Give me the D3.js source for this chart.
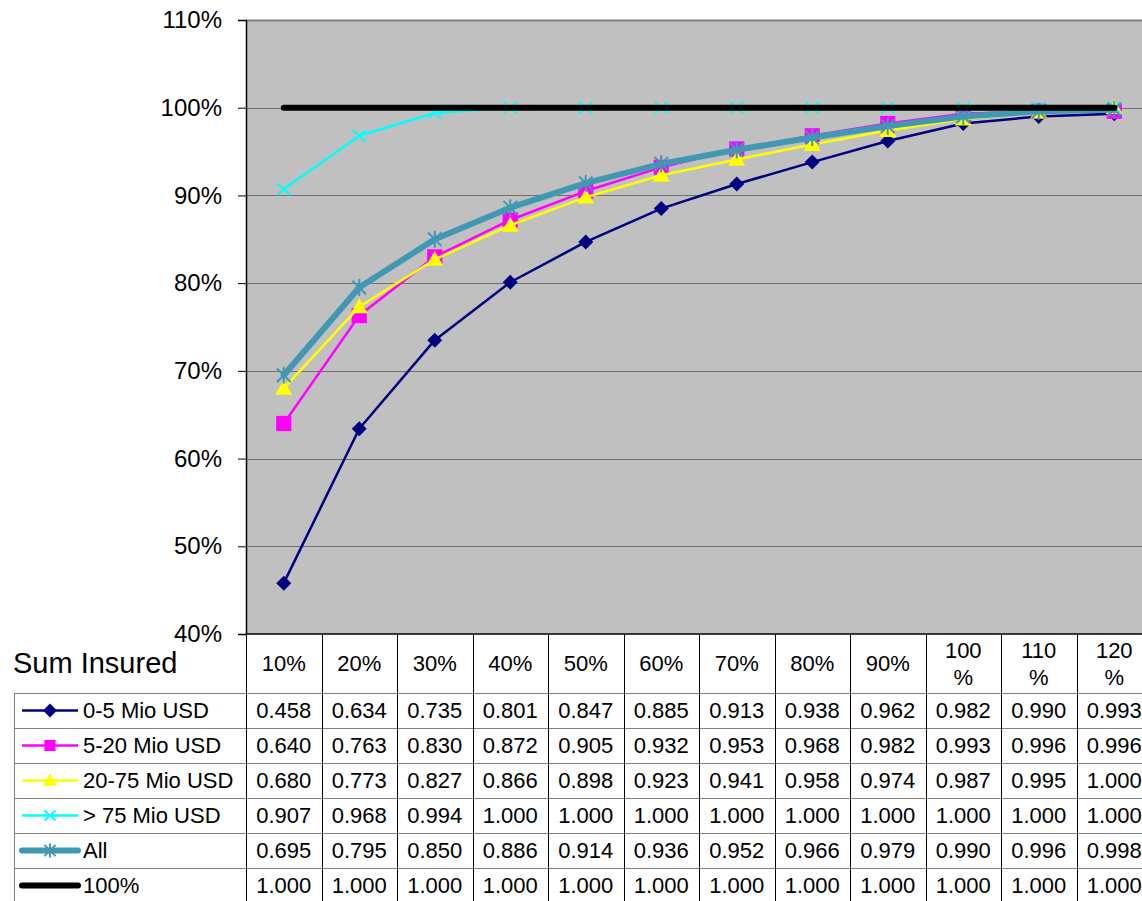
<!DOCTYPE html>
<html><head><meta charset="utf-8">
<script src="https://cdn.jsdelivr.net/npm/d3@7"></script>
<style>body{margin:0;background:#fff}svg{display:block;font-family:"Liberation Sans",Arial,sans-serif}</style>
</head><body><svg id="c" width="1142" height="901"></svg>
<script>
const categories = ["10%","20%","30%","40%","50%","60%","70%","80%","90%","100%","110%","120%"];
const yTicks = [0.4,0.5,0.6,0.7,0.8,0.9,1.0,1.1];
const seriesNames = ["0-5 Mio USD","5-20 Mio USD","20-75 Mio USD","> 75 Mio USD","All","100%"];
const s0_5   = [0.458,0.634,0.735,0.801,0.847,0.885,0.913,0.938,0.962,0.982,0.990,0.993];
const s5_20  = [0.640,0.763,0.830,0.872,0.905,0.932,0.953,0.968,0.982,0.993,0.996,0.996];
const s20_75 = [0.680,0.773,0.827,0.866,0.898,0.923,0.941,0.958,0.974,0.987,0.995,1.000];
const s75    = [0.907,0.968,0.994,1.000,1.000,1.000,1.000,1.000,1.000,1.000,1.000,1.000];
const sAll   = [0.695,0.795,0.850,0.886,0.914,0.936,0.952,0.966,0.979,0.990,0.996,0.998];
const s100   = [1.000,1.000,1.000,1.000,1.000,1.000,1.000,1.000,1.000,1.000,1.000,1.000];
const seriesValues = [s0_5, s5_20, s20_75, s75, sAll, s100];

const styles = [
  {color:"#000080", width:2.5, marker:"diamond", size:7.5},
  {color:"#FF00FF", width:2.5, marker:"square", size:9.5},
  {color:"#FFFF00", width:2.5, marker:"triangle", size:8.5},
  {color:"#00FFFF", width:2.5, marker:"x", size:8},
  {color:"#4198B2", width:6, marker:"star", size:8.5},
  {color:"#000000", width:6, marker:"none", size:0}
];

const svg = d3.select("#c");
const L = 246, T = 20, B = 634, colW = 75.5;
const R = L + colW*categories.length;
const x = d3.scaleBand().domain(categories).range([L, R]);
const y = d3.scaleLinear().domain([0.4, 1.1]).range([B, T]);
const cx = c => x(c) + x.bandwidth()/2;

// plot area
svg.append("rect").attr("x",L).attr("y",T).attr("width",R-L).attr("height",B-T).attr("fill","#C0C0C0");
svg.append("line").attr("x1",L).attr("x2",R).attr("y1",T+0.5).attr("y2",T+0.5).attr("stroke","#808080").attr("stroke-width",2);
// gridlines
svg.append("g").selectAll("line").data(yTicks.slice(1,-1)).join("line")
  .attr("x1",L).attr("x2",R).attr("y1",d=>Math.round(y(d))+0.5).attr("y2",d=>Math.round(y(d))+0.5)
  .attr("stroke","#707070").attr("stroke-width",1);

// y axis
const yAxis = d3.axisLeft(y).tickValues(yTicks).tickFormat(d3.format(".0%")).tickSize(8).tickPadding(16);
const ga = svg.append("g").attr("transform",`translate(${L},0)`).call(yAxis);
ga.select(".domain").attr("stroke","#000").attr("stroke-width",1.5);
ga.selectAll(".tick line").attr("stroke","#000");
ga.selectAll(".tick text").attr("font-size",24).attr("fill","#000").attr("font-family","Liberation Sans, Arial, sans-serif");

// markers
function drawMarker(g, type, color, size) {
  const s = size;
  if (type === "diamond") {
    g.append("path").attr("d",`M0,${-s}L${s},0L0,${s}L${-s},0Z`).attr("fill",color);
  } else if (type === "square") {
    g.append("rect").attr("x",-s*0.8).attr("y",-s*0.8).attr("width",s*1.6).attr("height",s*1.6).attr("fill",color);
  } else if (type === "triangle") {
    g.append("path").attr("d",`M0,${-s}L${s},${s*0.75}L${-s},${s*0.75}Z`).attr("fill",color);
  } else if (type === "x") {
    g.append("path").attr("d",`M${-s*0.8},${-s*0.7}L${s*0.8},${s*0.7}M${s*0.8},${-s*0.7}L${-s*0.8},${s*0.7}`).attr("stroke",color).attr("stroke-width",2);
  } else if (type === "star") {
    g.append("path").attr("d",`M${-s*0.8},${-s*0.8}L${s*0.8},${s*0.8}M${s*0.8},${-s*0.8}L${-s*0.8},${s*0.8}M0,${-s}L0,${s}`).attr("stroke",color).attr("stroke-width",2);
  }
}

const line = d3.line().x((d,i)=>cx(categories[i])).y(d=>y(d));
const plot = svg.append("g");
seriesValues.forEach((vals, si) => {
  const st = styles[si];
  plot.append("path").datum(vals).attr("d", line).attr("fill","none")
    .attr("stroke", st.color).attr("stroke-width", st.width)
    .attr("stroke-linejoin","round").attr("stroke-linecap","round");
  if (st.marker !== "none") {
    vals.forEach((v,i) => {
      const g = plot.append("g").attr("transform",`translate(${cx(categories[i])},${y(v)})`);
      drawMarker(g, st.marker, st.color, st.size);
    });
  }
});
// x axis line
svg.append("line").attr("x1",L).attr("x2",R).attr("y1",B).attr("y2",B).attr("stroke","#000").attr("stroke-width",1.5);

// table
const tTop = 693, rowH = 35, tLeft = 14;
const tab = svg.append("g");
// header
svg.append("text").attr("x",13).attr("y",673).attr("font-size",29).attr("fill","#000").text("Sum Insured");
categories.forEach(c => {
  const lines = c.length > 3 ? [c.slice(0,-1), "%"] : [c];
  const t = tab.append("text").attr("text-anchor","middle").attr("font-size",22).attr("fill","#000");
  if (lines.length === 1) {
    t.append("tspan").attr("x",cx(c)).attr("y",663).attr("dy","0.35em").text(lines[0]);
  } else {
    t.append("tspan").attr("x",cx(c)).attr("y",650).attr("dy","0.35em").text(lines[0]);
    t.append("tspan").attr("x",cx(c)).attr("y",677).attr("dy","0.35em").text(lines[1]);
  }
});
// horizontal lines
for (let r = 0; r <= seriesNames.length; r++) {
  const yy = tTop + r*rowH + 0.5;
  tab.append("line").attr("x1",tLeft).attr("x2",R).attr("y1",yy).attr("y2",yy).attr("stroke","#808080").attr("stroke-width",1);
}
// vertical lines
tab.append("line").attr("x1",tLeft+0.5).attr("x2",tLeft+0.5).attr("y1",tTop).attr("y2",tTop+rowH*seriesNames.length).attr("stroke","#808080");
categories.forEach((c,i) => {
  const xx = Math.round(x(c)) + 0.5;
  if (i>0) tab.append("line").attr("x1",xx).attr("x2",xx).attr("y1",B).attr("y2",tTop+rowH*seriesNames.length).attr("stroke","#000");
});
tab.append("line").attr("x1",L+0.5).attr("x2",L+0.5).attr("y1",B).attr("y2",tTop+rowH*seriesNames.length).attr("stroke","#000");

const fmt = d3.format(".3f");
seriesNames.forEach((name, si) => {
  const st = styles[si];
  const ym = tTop + si*rowH + rowH/2;
  // legend sample
  tab.append("line").attr("x1",22).attr("x2",78).attr("y1",ym).attr("y2",ym)
    .attr("stroke",st.color).attr("stroke-width",st.width).attr("stroke-linecap", st.width>3 ? "round" : "butt");
  if (st.marker !== "none") {
    const g = tab.append("g").attr("transform",`translate(50,${ym})`);
    drawMarker(g, st.marker, st.color, 7);
  }
  tab.append("text").attr("x",83).attr("y",ym).attr("dy","0.35em").attr("font-size",22).attr("fill","#000").text(name);
  seriesValues[si].forEach((v,i) => {
    tab.append("text").attr("x",cx(categories[i])).attr("y",ym).attr("dy","0.35em")
      .attr("text-anchor","middle").attr("font-size",22).attr("fill","#000").text(fmt(v));
  });
});
</script></body></html>
